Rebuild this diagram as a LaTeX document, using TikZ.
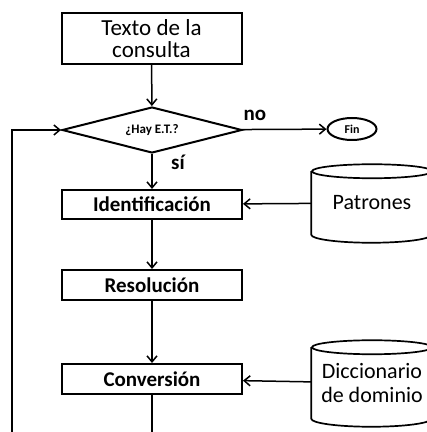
\documentclass[tikz,border=0pt]{standalone}
\usepackage{fontspec}
\setmainfont{Carlito}
\usepackage{tikz}
\usetikzlibrary{shapes.geometric,arrows.meta}
\tikzstyle{every picture}=[x=1pt,y=1pt,line width=1.5pt]
\tikzstyle{paso}=[rectangle, draw, line width=2pt, minimum width=180pt,
                  inner sep=0pt, font=\fontsize{21}{23}\selectfont\bfseries]
\tikzstyle{base}=[rectangle, draw=none, minimum width=120pt, inner sep=0pt,
                  align=center, font=\fontsize{22}{24}\selectfont]
\tikzstyle{flecha}=[-{Straight Barb[length=6pt,width=10pt]}]
\tikzstyle{etiqueta}=[draw=none, inner sep=0pt, font=\fontsize{21}{22}\selectfont\bfseries]

\begin{document}
\begin{tikzpicture}
  \useasboundingbox (0,0) rectangle (427,432);
  \clip (0,0) rectangle (427,432);
  \node[paso, minimum height=51pt, align=center, font=\fontsize{23}{22}\selectfont]
    (texto) at (151.5,393.5) {Texto de la\\consulta};
  \node[diamond, draw, line width=2pt, aspect=3.9, minimum width=180pt,
        minimum height=46pt, inner sep=0pt, font=\fontsize{13}{14}\selectfont\bfseries]
    (hay) at (152,302) {¿Hay E.T.?};
  \node[ellipse, draw, line width=2pt, minimum width=49pt, minimum height=22pt,
        inner sep=0pt, font=\fontsize{12}{13}\selectfont\bfseries]
    (fin) at (352,303) {Fin};
  \node[paso, minimum height=29pt] (ident) at (152,227.5) {Identificación};
  \node[paso, minimum height=30pt] (resol) at (152,147) {Resolución};
  \node[paso, minimum height=30pt] (conv) at (152,53) {Conversión};
  \node[base, minimum height=62pt] (patr) at (372,229) {Patrones};
  \node[base, minimum height=70pt] (dicc) at (372,49) {Diccionario\\de dominio};
  \node[etiqueta] (no) at (255,317) {no};
  \node[etiqueta] (si) at (178,270) {sí};
  \coordinate (abajo) at (152,0);
  \coordinate (izq) at (12,0);
  \coordinate (codo) at (12,302);
  % bases de datos
  \draw[line width=1.7pt] (patr.north west) -- (patr.south west)
    arc[start angle=180, end angle=360, x radius=60, y radius=8] -- (patr.north east);
  \draw[line width=1.7pt] (patr.north) ellipse[x radius=60, y radius=7];
  \draw[line width=1.7pt] (dicc.north west) -- (dicc.south west)
    arc[start angle=180, end angle=360, x radius=60, y radius=8] -- (dicc.north east);
  \draw[line width=1.7pt] (dicc.north) ellipse[x radius=60, y radius=7];
  % flujo
  \draw[flecha] (texto) -- (hay);
  \draw[flecha] (hay) -- (fin);
  \draw[flecha] (hay) -- (ident);
  \draw[flecha] (ident) -- (resol);
  \draw[flecha] (resol) -- (conv);
  \draw[flecha] (patr) -- (ident);
  \draw[flecha] (dicc) -- (conv);
  \draw (conv) -- (abajo);
  \draw[flecha] (izq) -- (codo) -- (hay);
\end{tikzpicture}
\end{document}
